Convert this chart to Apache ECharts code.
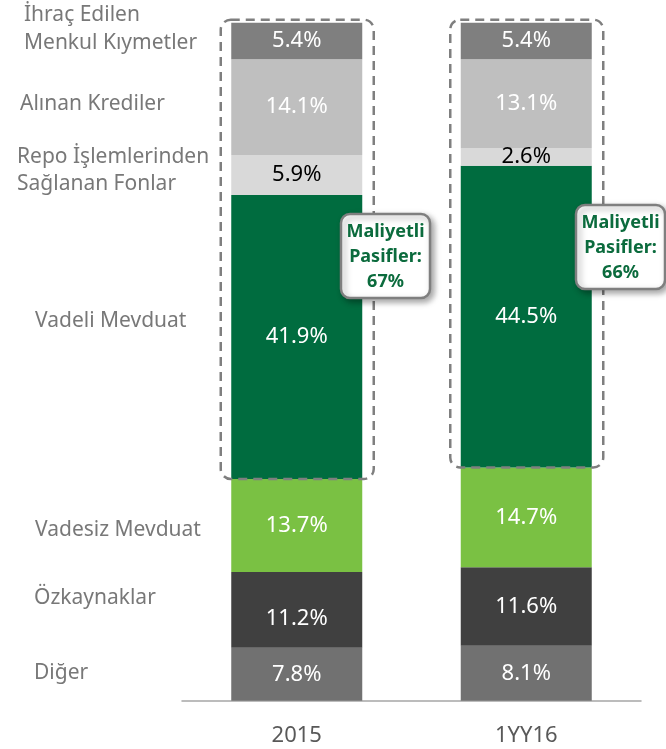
<!DOCTYPE html>
<html>
<head>
<meta charset="utf-8">
<script src="https://cdn.jsdelivr.net/npm/echarts@6/dist/echarts.min.js"></script>
<style>
    html, body { margin: 0; padding: 0; background: #fff; }
    #main { width: 666px; height: 749px; }
</style>
</head>
<body>
<div id="main"></div>
<script>
var categories = ['2015', '1YY16'];
var seriesNames = ['Diğer', 'Özkaynaklar', 'Vadesiz Mevduat', 'Vadeli Mevduat',
    'Repo İşlemlerinden Sağlanan Fonlar', 'Alınan Krediler', 'İhraç Edilen Menkul Kıymetler'];
var diger = [7.8, 8.1];
var ozkaynaklar = [11.2, 11.6];
var vadesiz = [13.7, 14.7];
var vadeli = [41.9, 44.5];
var repo = [5.9, 2.6];
var krediler = [14.1, 13.1];
var ihrac = [5.4, 5.4];
var maliyetli = ['67%', '66%'];

var colors = ['#717171', '#404040', '#7ac143', '#006c3f', '#d9d9d9', '#bfbfbf', '#7f7f7f'];
var labelColors = ['#fff', '#fff', '#fff', '#fff', '#000', '#fff', '#fff'];
var values = [diger, ozkaynaklar, vadesiz, vadeli, repo, krediler, ihrac];

var FONT = '"Noto Sans", sans-serif';

var myChart = echarts.init(document.getElementById('main'));

var series = values.map(function (arr, i) {
    return {
        name: seriesNames[i],
        type: 'bar',
        stack: 'total',
        barWidth: 131,
        silent: true,
        itemStyle: { color: colors[i] },
        label: {
            show: true,
            position: 'inside',
            color: labelColors[i],
            fontFamily: FONT,
            fontSize: 22,
            formatter: function (p) { return p.value.toFixed(1) + '%'; }
        },
        data: arr.map(function (v, j) {
            // 11.2% etiketi biraz aşağıda duruyor
            if (i === 1 && j === 0) {
                return { value: v, label: { offset: [0, 9] } };
            }
            return v;
        })
    };
});

var option = {
    animation: false,
    grid: { left: 182, right: 25, top: 22.7, bottom: 48.3 },
    xAxis: {
        type: 'category',
        data: categories,
        axisLine: { lineStyle: { color: '#a6a6a6', width: 1.5 } },
        axisTick: { show: false },
        axisLabel: { color: '#595959', fontFamily: FONT, fontSize: 22, margin: 24 }
    },
    yAxis: {
        type: 'value',
        min: 0,
        max: 100,
        show: false,
        splitLine: { show: false }
    },
    series: series
};
myChart.setOption(option);

// sol taraftaki kalem etiketleri
var sideLabels = [
    { text: 'İhraç Edilen', x: 24, y: 15 },
    { text: 'Menkul Kıymetler', x: 24, y: 43 },
    { text: 'Alınan Krediler', x: 20, y: 104 },
    { text: 'Repo İşlemlerinden', x: 17, y: 157 },
    { text: 'Sağlanan Fonlar', x: 17, y: 184 },
    { text: 'Vadeli Mevduat', x: 35, y: 321 },
    { text: 'Vadesiz Mevduat', x: 35, y: 530 },
    { text: 'Özkaynaklar', x: 34, y: 598 },
    { text: 'Diğer', x: 34, y: 673 }
];

var graphics = sideLabels.map(function (s) {
    return {
        type: 'text',
        x: s.x,
        y: s.y,
        silent: true,
        style: {
            text: s.text,
            fill: '#787878',
            font: '21px ' + FONT,
            verticalAlign: 'middle'
        }
    };
});

// maliyetli pasifler çerçeveleri (vadeli mevduat alt sınırından tepeye)
categories.forEach(function (c, j) {
    var base = diger[j] + ozkaynaklar[j] + vadesiz[j];
    var bottom = myChart.convertToPixel({ gridIndex: 0 }, [j, base]);
    var top = myChart.convertToPixel({ gridIndex: 0 }, [j, 100]);
    var left = bottom[0] - 76;
    graphics.push({
        type: 'rect',
        silent: true,
        z: 10,
        shape: { x: left, y: top[1] - 3, width: 153, height: bottom[1] - top[1] + 3, r: 10 },
        style: { fill: 'none', stroke: '#7f7f7f', lineWidth: 2.5, lineDash: [9, 6] }
    });
});

var boxes = [{ x: 341, y: 214 }, { x: 576, y: 205 }];
boxes.forEach(function (b, j) {
    graphics.push({
        type: 'rect',
        silent: true,
        z: 20,
        shape: { x: b.x, y: b.y, width: 89, height: 84, r: 9 },
        style: {
            fill: '#fff', stroke: '#7f7f7f', lineWidth: 2.5,
            shadowBlur: 6, shadowOffsetX: 3, shadowOffsetY: 3, shadowColor: 'rgba(0,0,0,0.35)'
        }
    });
    graphics.push({
        type: 'text',
        silent: true,
        z: 21,
        x: b.x + 44.5,
        y: b.y + 43,
        style: {
            text: 'Maliyetli\nPasifler:\n' + maliyetli[j],
            fill: '#0b6b3d',
            font: 'bold 18px ' + FONT,
            lineHeight: 25,
            align: 'center',
            verticalAlign: 'middle'
        }
    });
});

myChart.setOption({ graphic: graphics });
</script>
</body>
</html>
